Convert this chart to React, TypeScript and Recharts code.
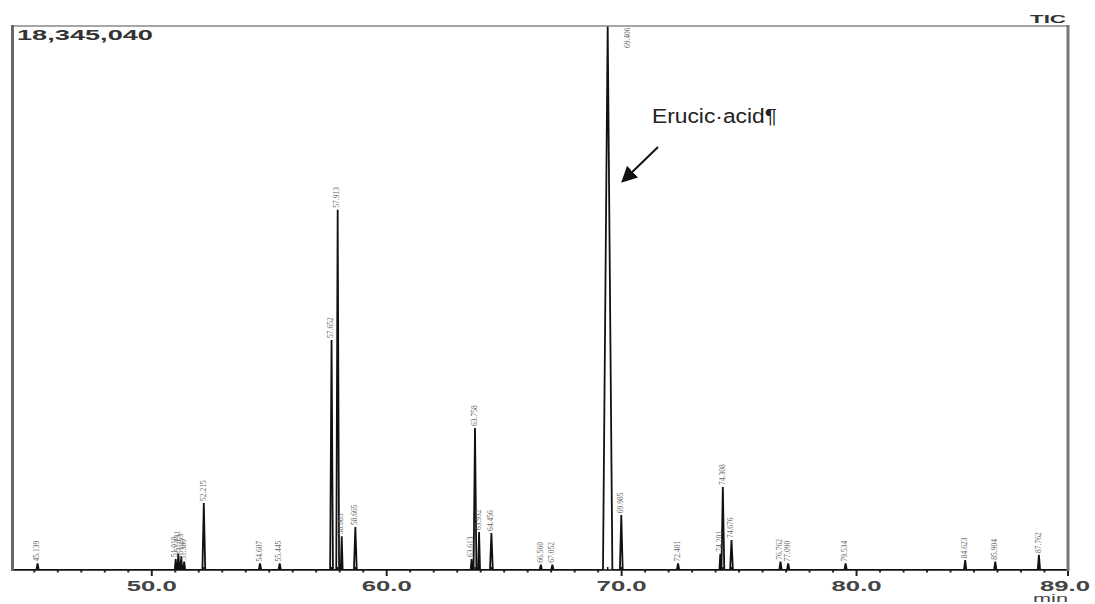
import React from "react";
import { ComposedChart, Line, Scatter, XAxis, YAxis } from "recharts";

// peak retention times (min), heights (counts), half widths (min)
const PEAK_RT = [
  45.139, 51.018, 51.131, 51.253, 51.38, 52.215, 54.607, 55.445, 57.652, 57.913,
  58.085, 58.665, 63.613, 63.758, 63.932, 64.456, 66.56, 67.052, 69.406, 69.985,
  72.401, 74.201, 74.308, 74.676, 76.762, 77.09, 79.534, 84.623, 85.904, 87.762,
];
const PEAK_HEIGHT = [
  220000, 370000, 550000, 460000, 280000, 2260000, 220000, 220000, 7760000, 12150000,
  1140000, 1450000, 370000, 4790000, 1280000, 1250000, 180000, 180000, 18345040, 1850000,
  220000, 550000, 2800000, 1010000, 280000, 220000, 220000, 330000, 280000, 510000,
];
const PEAK_HALF_WIDTH = [
  0.05, 0.04, 0.04, 0.04, 0.04, 0.06, 0.05, 0.05, 0.06, 0.06,
  0.04, 0.06, 0.04, 0.06, 0.04, 0.06, 0.05, 0.05, 0.2, 0.06,
  0.05, 0.04, 0.06, 0.06, 0.05, 0.05, 0.05, 0.05, 0.05, 0.05,
];

const MAX_INTENSITY = 18345040;
const X_MIN = 44.05;
const X_MAX = 89.0;
const MAJOR_TICKS = [50, 60, 70, 80, 89];
const ALL_TICKS = Array.from({ length: 45 }, (_, i) => 45 + i);

const FONT = "'Liberation Sans', Arial, sans-serif";

// plot box in page pixels (frame drawn on top)
const LEFT = 12;
const RIGHT = 1068;
const TOP = 26;
const BASE = 570;

// chromatogram trace: baseline - apex - baseline for each peak
const trace: { t: number; v: number }[] = [{ t: X_MIN, v: 0 }];
PEAK_RT.forEach((rt, i) => {
  const hw = PEAK_HALF_WIDTH[i];
  trace.push({ t: rt - hw, v: 0 }, { t: rt, v: PEAK_HEIGHT[i] }, { t: rt + hw, v: 0 });
});
trace.push({ t: X_MAX, v: 0 });

const peaks = PEAK_RT.map((rt, i) => ({ t: rt, v: PEAK_HEIGHT[i], label: rt.toFixed(3) }));
const marks = PEAK_RT.map((rt) => ({ t: rt, v: 0 }));

function PeakLabel(props: any) {
  const { cx, cy, payload } = props;
  if (cx == null || cy == null) return null;
  const atTop = cy < 50;
  const x = atTop ? cx + 21 : cx;
  const y = atTop ? cy + 22 : cy - 2;
  return (
    <text
      x={x}
      y={y}
      transform={`rotate(-90 ${x} ${y})`}
      textAnchor="start"
      dominantBaseline="middle"
      fontSize={7.5}
      fontFamily="'Liberation Serif', 'Times New Roman', serif"
      fill="#666"
    >
      {payload.label}
    </text>
  );
}

function PeakMark(props: any) {
  const { cx, cy } = props;
  if (cx == null || cy == null) return null;
  return (
    <g>
      <line x1={cx} x2={cx} y1={cy - 3} y2={cy + 6} stroke="#111" strokeWidth={1.5} />
      <line x1={cx - 2} x2={cx + 2} y1={cy + 1} y2={cy + 1} stroke="#111" strokeWidth={1.5} />
    </g>
  );
}

function MinTick(props: any) {
  const { x, y, payload } = props;
  const v = payload.value as number;
  const major = MAJOR_TICKS.includes(v);
  return (
    <g>
      <line x1={x} x2={x} y1={y} y2={y + (major ? 6 : 2.5)} stroke="#222" strokeWidth={2} />
      {major && (
        <text
          x={v === 89 ? x - 3 : x}
          y={y + 21}
          textAnchor="middle"
          fontSize={14}
          fontWeight="bold"
          fontFamily={FONT}
          fill="#444"
          textLength={50}
          lengthAdjust="spacingAndGlyphs"
        >
          {v.toFixed(1)}
        </text>
      )}
    </g>
  );
}

export default function App() {
  return (
    <div style={{ position: "absolute", left: 0, top: 0, width: 1095, height: 604, background: "#fff" }}>
      <ComposedChart width={1095} height={604} margin={{ top: TOP, right: 1095 - RIGHT, bottom: 0, left: LEFT }}>
        <XAxis
          type="number"
          dataKey="t"
          domain={[X_MIN, X_MAX]}
          ticks={ALL_TICKS}
          interval={0}
          tick={<MinTick />}
          tickLine={false}
          tickSize={0}
          tickMargin={0}
          height={34}
          axisLine={{ stroke: "#111", strokeWidth: 1.5 }}
          allowDataOverflow
        />
        <YAxis
          type="number"
          domain={[0, MAX_INTENSITY]}
          tick={false}
          tickLine={false}
          width={0}
          axisLine={false}
          allowDataOverflow
        />
        <Line
          data={trace}
          dataKey="v"
          type="linear"
          stroke="#111"
          strokeWidth={1.8}
          dot={false}
          activeDot={false}
          isAnimationActive={false}
        />
        <Scatter data={marks} dataKey="v" shape={<PeakMark />} isAnimationActive={false} />
        <Scatter data={peaks} dataKey="v" shape={<PeakLabel />} isAnimationActive={false} />
      </ComposedChart>
      <svg
        width={1095}
        height={604}
        style={{ position: "absolute", left: 0, top: 0, pointerEvents: "none" }}
      >
        <defs>
          <marker id="arrowHead" markerWidth="8" markerHeight="8" refX="6" refY="4" orient="auto">
            <path d="M0,0 L8,4 L0,8 Z" fill="#111" />
          </marker>
        </defs>
        <line x1={LEFT} x2={RIGHT + 1} y1={TOP} y2={TOP} stroke="#888" strokeWidth={1.5} />
        <line x1={LEFT + 0.5} x2={LEFT + 0.5} y1={TOP - 1} y2={BASE + 1} stroke="#666" strokeWidth={3} />
        <line x1={RIGHT} x2={RIGHT} y1={TOP - 1} y2={BASE + 1} stroke="#777" strokeWidth={3} />
        <text
          x={17}
          y={40}
          fontSize={14}
          fontWeight="bold"
          fontFamily={FONT}
          fill="#333"
          textLength={136}
          lengthAdjust="spacingAndGlyphs"
        >
          18,345,040
        </text>
        <text
          x={1030}
          y={23}
          fontSize={11}
          fontWeight="bold"
          fontFamily={FONT}
          fill="#333"
          textLength={36}
          lengthAdjust="spacingAndGlyphs"
        >
          TIC
        </text>
        <text
          x={1033}
          y={602}
          fontSize={11}
          fontFamily={FONT}
          fill="#444"
          textLength={35}
          lengthAdjust="spacingAndGlyphs"
        >
          min
        </text>
        <text
          x={652}
          y={123}
          fontSize={20}
          fontFamily={FONT}
          fill="#222"
          textLength={125}
          lengthAdjust="spacingAndGlyphs"
        >
          Erucic·acid¶
        </text>
        <line x1={658} y1={147} x2={624} y2={180} stroke="#111" strokeWidth={2} markerEnd="url(#arrowHead)" />
      </svg>
    </div>
  );
}
